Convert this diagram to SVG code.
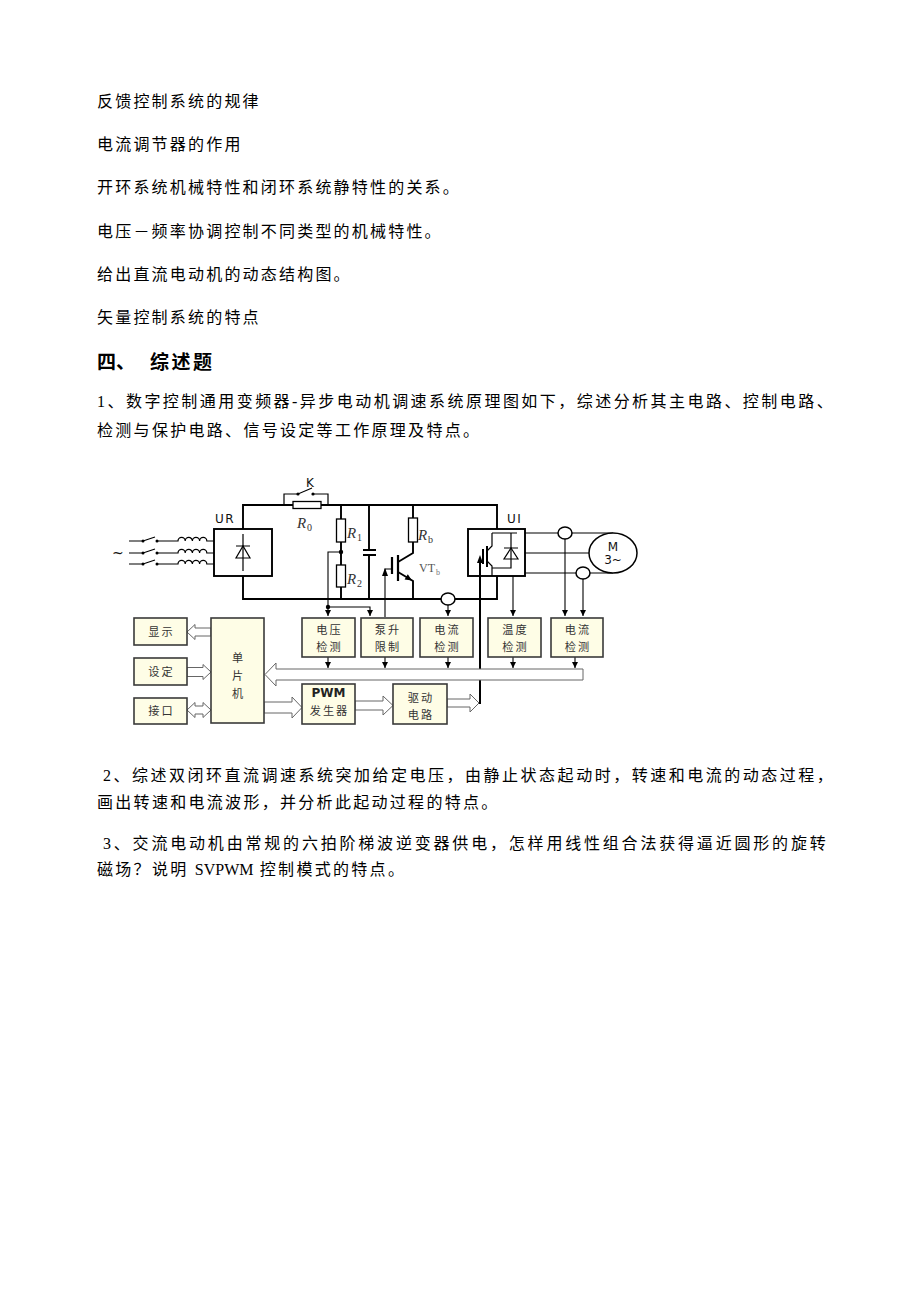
<svg xmlns="http://www.w3.org/2000/svg" width="920" height="1302" viewBox="0 0 920 1302">
<style>
.pg{font-family:"Noto Sans CJK SC",sans-serif;font-size:16px;fill:#000;letter-spacing:2.2px}
.q{font-family:"Liberation Serif","Noto Sans CJK SC",sans-serif;font-size:16px;fill:#000;letter-spacing:2.3px}
.ttl{font-family:"Noto Sans CJK SC",sans-serif;font-size:19px;font-weight:bold;fill:#000}
.w{stroke:#000;stroke-width:1.9;fill:none}
.th{stroke:#000;stroke-width:1.2;fill:none}
.s{stroke:#000;stroke-width:1.1;fill:none}
.rs{fill:#fff;stroke:#000;stroke-width:1.5}
.bx{fill:#FEFDE6;stroke:#3a3a3a;stroke-width:1.6}
.ha{fill:#fff;stroke:#666;stroke-width:1}
.bt{font-family:"Noto Sans CJK SC",sans-serif;font-size:11.2px;fill:#333;letter-spacing:2px;text-anchor:middle}
.lt{font-family:"DejaVu Sans",sans-serif;font-size:12px;fill:#111}
.rl{font-family:"Liberation Serif",serif;font-style:italic;font-size:15px;fill:#333}
.sub{font-family:"Liberation Serif",serif;font-size:10px;fill:#333}
</style>
<defs>
<marker id="ah" viewBox="0 0 8 8" refX="8" refY="4" markerWidth="6" markerHeight="6" orient="auto" markerUnits="userSpaceOnUse"><path d="M0,0 L8,4 L0,8 Z" fill="#000"/></marker>
</defs>
<rect x="0" y="0" width="920" height="1302" fill="#fff"/>

<g id="page-text">
<text class="pg" x="97" y="107">反馈控制系统的规律</text>
<text class="pg" x="97" y="150">电流调节器的作用</text>
<text class="pg" x="97" y="193">开环系统机械特性和闭环系统静特性的关系。</text>
<text class="pg" x="97" y="237">电压－频率协调控制不同类型的机械特性。</text>
<text class="pg" x="97" y="280">给出直流电动机的动态结构图。</text>
<text class="pg" x="97" y="323">矢量控制系统的特点</text>
<text class="ttl" x="97" y="369">四、</text>
<text class="ttl" x="150" y="369" font-size="20" textLength="62">综述题</text>
<text class="q" x="97" y="407" textLength="738" lengthAdjust="spacing">1、数字控制通用变频器-异步电动机调速系统原理图如下，综述分析其主电路、控制电路、</text>
<text class="q" x="97" y="436">检测与保护电路、信号设定等工作原理及特点。</text>
<text class="q" x="103" y="781" textLength="732" lengthAdjust="spacing">2、综述双闭环直流调速系统突加给定电压，由静止状态起动时，转速和电流的动态过程，</text>
<text class="q" x="97" y="808">画出转速和电流波形，并分析此起动过程的特点。</text>
<text class="q" x="103" y="849" textLength="725" lengthAdjust="spacing">3、交流电动机由常规的六拍阶梯波逆变器供电，怎样用线性组合法获得逼近圆形的旋转</text>
<text class="q" x="97" y="875">磁场？说明 <tspan letter-spacing="0">SVPWM</tspan> 控制模式的特点。</text>
</g>

<g id="power-input">
<text x="112" y="558" font-family="DejaVu Sans,sans-serif" font-size="14" fill="#111">~</text>
<path class="th" d="M129,541 H143 L155,537 M157,541 H178 a3.6,3.6 0 0 1 7.2,0 a3.6,3.6 0 0 1 7.2,0 a3.6,3.6 0 0 1 7.2,0 a3.6,3.6 0 0 1 7.2,0 H214"/>
<path class="th" d="M129,553 H143 L155,549 M157,553 H178 a3.6,3.6 0 0 1 7.2,0 a3.6,3.6 0 0 1 7.2,0 a3.6,3.6 0 0 1 7.2,0 a3.6,3.6 0 0 1 7.2,0 H214"/>
<path class="th" d="M129,564 H143 L155,560 M157,564 H178 a3.6,3.6 0 0 1 7.2,0 a3.6,3.6 0 0 1 7.2,0 a3.6,3.6 0 0 1 7.2,0 a3.6,3.6 0 0 1 7.2,0 H214"/>
<g fill="#000"><circle cx="143" cy="541" r="1.5"/><circle cx="157" cy="541" r="1.5"/><circle cx="143" cy="553" r="1.5"/><circle cx="157" cy="553" r="1.5"/><circle cx="143" cy="564" r="1.5"/><circle cx="157" cy="564" r="1.5"/></g>
</g>

<g id="UR">
<rect class="w" x="214" y="529" width="58" height="47" fill="#fff"/>
<path class="th" d="M243,534 V571 M236,546 H250"/>
<polygon points="236,558 250,558 243,546" fill="none" stroke="#000" stroke-width="1.2"/>
<text class="lt" x="215" y="523" letter-spacing="1.5">UR</text>
</g>

<g id="dc-link">
<path class="w" d="M243,529 V505 H293 M321,505 H497 V529 M243,576 V599 H497 V576"/>
<rect x="293" y="501.5" width="28" height="7" fill="#fff" stroke="#000" stroke-width="1.3"/>
<path class="th" d="M284,505 V494 H298 L312,488 M313,494 H328 V505"/>
<circle cx="298" cy="494" r="1.6"/><circle cx="313" cy="494" r="1.6"/>
<text class="lt" x="306" y="487">K</text>
<text class="rl" x="297" y="528">R</text><text class="sub" x="307" y="531">0</text>
</g>

<g id="R1-R2">
<path class="w" d="M341,505 V519 M341,542 V565 M341,587 V599"/>
<rect x="336.5" y="519" width="9" height="23" fill="#fff" stroke="#000" stroke-width="1.3"/>
<rect x="336.5" y="565" width="9" height="22" fill="#fff" stroke="#000" stroke-width="1.3"/>
<circle cx="341" cy="552" r="2.2"/>
<text class="rl" x="347" y="538">R</text><text class="sub" x="357" y="541">1</text>
<text class="rl" x="347" y="584">R</text><text class="sub" x="357" y="587">2</text>
</g>

<g id="capacitor">
<path class="w" d="M369,505 V550 M363,550 H376 M363,555 H376 M369,555 V599"/>
</g>

<g id="VTb">
<path class="w" d="M413,505 V518 M413,542 V553 L398,562"/>
<rect x="408.5" y="518" width="9" height="24" fill="#fff" stroke="#000" stroke-width="1.3"/>
<path stroke="#000" stroke-width="2.2" d="M398,555 V581 M392,557 V574"/>
<path class="w" d="M398,572 L413,581 V599"/>
<polygon points="412,580.4 404.6,579.6 407.8,574.2" fill="#000"/>
<text class="rl" x="418" y="540">R</text><text class="sub" x="428" y="543">b</text>
<text x="419" y="572" font-family="Liberation Serif,serif" font-size="12" fill="#555">VT</text><text x="436" y="575" font-family="Liberation Serif,serif" font-size="8" fill="#777">b</text>
</g>

<g id="UI">
<rect class="w" x="468" y="529" width="57" height="47" fill="#fff"/>
<path class="th" d="M492,533 V546 L487,551 M487,561 L492,566 V576 M492,533 H517 M511,533 V568 H492 M504,548 H518"/>
<path stroke="#000" stroke-width="2" d="M487,546 V567 M483,549 V564"/>
<polygon points="504,559 518,559 511,548" fill="none" stroke="#000" stroke-width="1.2"/>
<text class="lt" x="507" y="523" letter-spacing="1.5">UI</text>
</g>

<g id="motor">
<path class="th" d="M525,533 H613 M525,553 H590 M525,573 H613"/>
<ellipse cx="613" cy="553" rx="24" ry="20" fill="#fff" stroke="#000" stroke-width="1.5"/>
<text class="lt" x="613" y="551" text-anchor="middle" font-size="13">M</text>
<text class="lt" x="613" y="564" text-anchor="middle">3~</text>
</g>

<g id="connectors">
<path class="s" d="M341,552 H328 V616" marker-end="url(#ah)"/>
<path class="s" d="M328,607 H370 V616" marker-end="url(#ah)"/>
<path class="s" d="M385,617 V569 H392"/>
<polygon points="382,576 388,576 385,568" fill="#000"/>
<path class="s" d="M448,605 V616" marker-end="url(#ah)"/>
<path class="s" d="M513,576 V616" marker-end="url(#ah)"/>
<path class="s" d="M565,539 V616" marker-end="url(#ah)"/>
<path class="s" d="M583,579 V616" marker-end="url(#ah)"/>
<path class="s" d="M328,657 V668" marker-end="url(#ah)"/>
<path class="s" d="M385,657 V668" marker-end="url(#ah)"/>
<path class="s" d="M448,657 V668" marker-end="url(#ah)"/>
<path class="s" d="M513,657 V668" marker-end="url(#ah)"/>
<path class="s" d="M575,657 V668" marker-end="url(#ah)"/>
<path stroke="#000" stroke-width="2" fill="none" d="M480,704 V560"/>
<polygon points="477,563 483,563 480,555" fill="#000"/>
<circle cx="328" cy="607" r="2.2"/>
<ellipse cx="448" cy="599" rx="7" ry="6" class="rs"/>
<ellipse cx="565" cy="533" rx="7" ry="6" class="rs"/>
<ellipse cx="583" cy="573" rx="7" ry="6" class="rs"/>
<path class="ha" d="M583,669 H276 V663 L265,674.5 L276,686 V680 H583 Z"/>
<path class="ha" d="M211,628 H195 V624.5 L187,632 L195,639.5 V636 H211 Z"/>
<path class="ha" d="M187,667.5 H203 V664.5 L211,672 L203,679.5 V676.5 H187 Z"/>
<path class="ha" d="M187,710 L195,702.5 V706 H203 V702.5 L211,710 L203,717.5 V714 H195 V717.5 Z"/>
<path class="ha" d="M264,702 H292 V697 L302,707.5 L292,718 V713 H264 Z"/>
<path class="ha" d="M355,701 H383 V696 L393,705.5 L383,715 V710 H355 Z"/>
<path class="ha" d="M447,699 H470 V694 L479,703 L470,712 V707 H447 Z"/>
</g>

<g id="xianshi"><rect class="bx" x="134" y="618" width="53" height="27"/><text class="bt" x="161.5" y="636">显示</text></g>
<g id="sheding"><rect class="bx" x="134" y="658" width="53" height="27"/><text class="bt" x="161.5" y="676">设定</text></g>
<g id="jiekou"><rect class="bx" x="134" y="698" width="53" height="26"/><text class="bt" x="161.5" y="715">接口</text></g>
<g id="danpianji"><rect class="bx" x="211" y="618" width="53" height="105"/><text class="bt" x="238.5" y="662">单</text><text class="bt" x="238.5" y="680">片</text><text class="bt" x="238.5" y="698">机</text></g>
<g id="dianya"><rect class="bx" x="302" y="618" width="53" height="39"/><text class="bt" x="329.5" y="634">电压</text><text class="bt" x="329.5" y="651">检测</text></g>
<g id="bengsheng"><rect class="bx" x="361" y="618" width="52" height="39"/><text class="bt" x="388" y="634">泵升</text><text class="bt" x="388" y="651">限制</text></g>
<g id="dianliu1"><rect class="bx" x="420" y="618" width="53" height="39"/><text class="bt" x="447.5" y="634">电流</text><text class="bt" x="447.5" y="651">检测</text></g>
<g id="wendu"><rect class="bx" x="488" y="618" width="53" height="39"/><text class="bt" x="515.5" y="634">温度</text><text class="bt" x="515.5" y="651">检测</text></g>
<g id="dianliu2"><rect class="bx" x="551" y="618" width="52" height="39"/><text class="bt" x="578" y="634">电流</text><text class="bt" x="578" y="651">检测</text></g>
<g id="pwm"><rect class="bx" x="302" y="684" width="53" height="40"/><text x="328.5" y="697" text-anchor="middle" font-family="DejaVu Sans,sans-serif" font-weight="bold" font-size="12" fill="#222">PWM</text><text class="bt" x="329.5" y="715" letter-spacing="1">发生器</text></g>
<g id="qudong"><rect class="bx" x="393" y="684" width="54" height="40"/><text class="bt" x="421" y="702">驱动</text><text class="bt" x="421" y="719">电路</text></g>
</svg>
